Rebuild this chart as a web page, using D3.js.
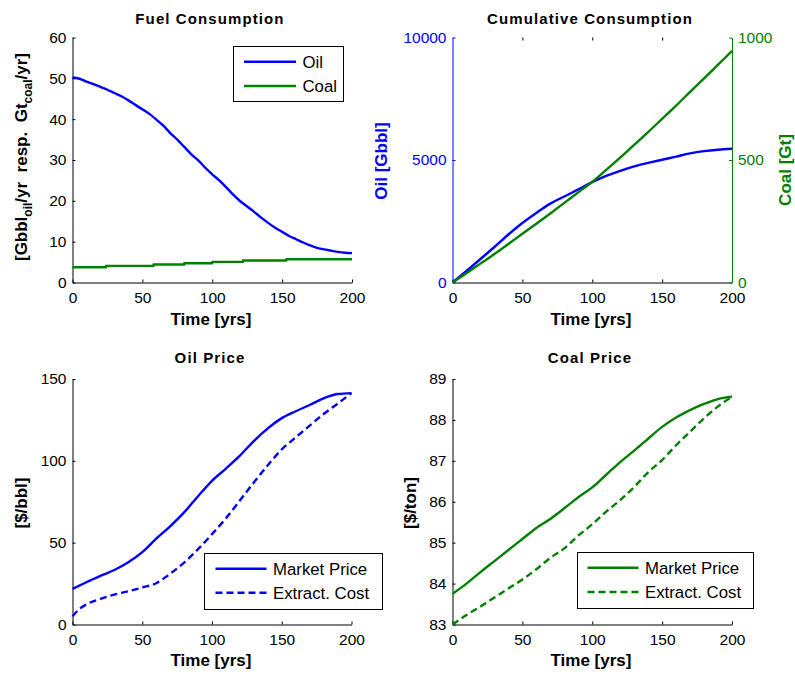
<!DOCTYPE html>
<html><head><meta charset="utf-8">
<script src="https://cdn.jsdelivr.net/npm/d3@7"></script>
<style>
body{margin:0;background:#fff}
svg{display:block}
text{font-family:"Liberation Sans",Arial,Helvetica,sans-serif}
</style>
</head><body>
<svg id="chart" width="795" height="675"></svg>
<script>
// ---------------- data ----------------
const years = [0,10,20,30,40,50,60,70,80,90,100,110,120,130,140,150,160,170,180,190,200];
const years5 = [0,5,10,15,20,25,30,35,40,45,50,55,60,65,70,75,80,85,90,95,100,105,110,115,120,125,130,135,140,145,150,155,160,165,170,175,180,185,190,195,200];
const oilConsumption = [50.2,49.9,49.2,48.6,47.9,47.2,46.4,45.6,44.6,43.5,42.4,41.3,39.9,38.4,36.6,35.0,33.2,31.4,29.9,28.1,26.5,25.0,23.3,21.5,19.9,18.6,17.3,15.9,14.6,13.4,12.4,11.4,10.6,9.8,9.1,8.5,8.1,7.8,7.5,7.3,7.2];
const coalStepYears = [0,24,58,80,100,122,153,200];
const coalConsumption = [3.75,4.07,4.40,4.73,5.05,5.38,5.70,5.70];
const oilCumulative = [0,470,960,1450,1960,2430,2840,3220,3510,3800,4100,4350,4560,4740,4880,5010,5140,5270,5360,5420,5460];
const coalCumulative = [0,38,77,116,157,199,240,282,325,368,411,460,510,562,614,668,722,778,833,889,945];
const oilMarketPrice = [21.8,25.8,29.7,33.3,38.0,44.2,52.4,60.0,68.5,78.4,87.8,95.3,103.2,112.1,119.8,126.1,130.3,134.1,138.2,140.8,141.4];
const oilCostYears = [0,5,10,20,30,40,50,60,70,80,90,100,110,120,130,140,150,160,170,180,190,200];
const oilExtractCost = [5.0,9.5,12.3,15.6,18.3,20.3,22.6,25.2,31.0,37.8,46.0,55.2,64.9,75.8,86.8,97.3,107.0,114.3,121.5,128.6,134.9,141.4];
const coalMarketPrice = [83.75,84.0,84.28,84.55,84.82,85.09,85.36,85.58,85.84,86.11,86.35,86.66,86.97,87.25,87.54,87.83,88.06,88.24,88.39,88.51,88.57];
const coalExtractCost = [83.0,83.23,83.44,83.66,83.88,84.1,84.35,84.63,84.86,85.17,85.45,85.76,86.04,86.36,86.72,87.02,87.38,87.71,88.04,88.33,88.57];

const timeTicks = [0,50,100,150,200];
const fuelTicks = [0,10,20,30,40,50,60];
const oilCumTicks = [0,5000,10000];
const coalCumTicks = [0,500,1000];
const oilPriceTicks = [0,50,100,150];
const coalPriceTicks = [83,84,85,86,87,88,89];

const BLUE = "#0000ff", GREEN = "#008000";

// ---------------- helpers ----------------
const svg = d3.select("#chart");

function styleAxis(g, color, size){
  g.selectAll("path.domain").attr("stroke", color).attr("stroke-width", 1);
  g.selectAll(".tick line").attr("stroke", color).attr("stroke-width", 1);
  g.selectAll(".tick text").attr("fill", color).attr("font-size", size)
    .attr("font-family", '"Liberation Sans",Arial,sans-serif');
  g.attr("font-size", null).attr("font-family", null);
}

function panel(x0, x1, yBottom, yTop, yDomain){
  const x = d3.scaleLinear().domain([0,200]).range([x0, x1]);
  const y = d3.scaleLinear().domain(yDomain).range([yBottom, yTop]);
  return {x, y};
}

function xAxis(p, yPos){
  const g = svg.append("g").attr("transform", `translate(0,${yPos})`)
    .call(d3.axisBottom(p.x).tickValues(timeTicks).tickSizeInner(-3).tickSizeOuter(0).tickPadding(9.5));
  styleAxis(g, "#000", "15.5px");
  return g;
}
function yAxisLeft(scale, xPos, ticks, color, fmt){
  const g = svg.append("g").attr("transform", `translate(${xPos},0)`)
    .call(d3.axisLeft(scale).tickValues(ticks).tickSizeInner(-3).tickSizeOuter(0).tickPadding(6).tickFormat(fmt || d3.format("d")));
  styleAxis(g, color, "15.5px");
  return g;
}
function yAxisRight(scale, xPos, ticks, color){
  const g = svg.append("g").attr("transform", `translate(${xPos},0)`)
    .call(d3.axisRight(scale).tickValues(ticks).tickSizeInner(-3).tickSizeOuter(0).tickPadding(6).tickFormat(d3.format("d")));
  styleAxis(g, color, "15.5px");
  return g;
}
function title(txt, cx, y){
  svg.append("text").attr("x", cx).attr("y", y).attr("text-anchor","middle")
    .attr("font-weight","bold").attr("font-size","15px").attr("letter-spacing","1.1px")
    .attr("fill","#000").text(txt);
}
function xLabel(cx, y){
  svg.append("text").attr("x", cx).attr("y", y).attr("text-anchor","middle")
    .attr("font-weight","bold").attr("font-size","17px").attr("fill","#000").text("Time [yrs]");
}
function yLabel(txt, x, cy, color){
  svg.append("text").attr("transform", `translate(${x},${cy}) rotate(-90)`)
    .attr("text-anchor","middle").attr("font-weight","bold").attr("font-size","17px")
    .attr("fill", color).text(txt);
}
function drawLine(p, xs, ys, color, dash, curve){
  const line = d3.line().x((d,i)=>p.x(xs[i])).y(d=>p.y(d)).curve(curve || d3.curveMonotoneX);
  svg.append("path").datum(ys).attr("d", line).attr("fill","none")
    .attr("stroke", color).attr("stroke-width", 2.4)
    .attr("stroke-dasharray", dash || null).attr("stroke-linejoin","round");
}
function legend(x, y, w, h, items, lineX0, lineX1, textX, rowYs){
  svg.append("rect").attr("x", x).attr("y", y).attr("width", w).attr("height", h)
    .attr("fill","#fff").attr("stroke","#000").attr("stroke-width",1);
  items.forEach((it, i) => {
    svg.append("line").attr("x1", lineX0).attr("x2", lineX1).attr("y1", rowYs[i]).attr("y2", rowYs[i])
      .attr("stroke", it.color).attr("stroke-width", 2.4).attr("stroke-dasharray", it.dash || null);
    svg.append("text").attr("x", textX).attr("y", rowYs[i]).attr("dy","0.36em")
      .attr("font-size","16.8px").attr("fill","#000").text(it.label);
  });
}

// ---------------- Panel 1: Fuel Consumption ----------------
const p1 = panel(72.5, 352, 282.5, 37.5, [0,60]);
xAxis(p1, 282.5);
yAxisLeft(p1.y, 72.5, fuelTicks, "#000");
drawLine(p1, years5, oilConsumption, BLUE);
drawLine(p1, coalStepYears, coalConsumption, GREEN, null, d3.curveStepAfter);
title("Fuel Consumption", 210, 24);
xLabel(211, 325);
{
  const t = svg.append("text").attr("transform","translate(27,157) rotate(-90)")
    .attr("text-anchor","middle").attr("font-weight","bold").attr("font-size","17px").attr("fill","#000")
    .attr("xml:space","preserve").style("white-space","pre");
  t.append("tspan").text("[Gbbl");
  t.append("tspan").attr("dy", 5).attr("font-size","12px").text("oil");
  t.append("tspan").attr("dy", -5).text("/yr  resp.  Gt");
  t.append("tspan").attr("dy", 5).attr("font-size","12px").text("coal");
  t.append("tspan").attr("dy", -5).text("/yr]");
}
legend(233.5, 46.5, 110, 55, [
  {label:"Oil", color:BLUE},
  {label:"Coal", color:GREEN}
], 244, 296, 302.5, [61.7, 86]);

// ---------------- Panel 2: Cumulative Consumption ----------------
const p2 = panel(452.5, 732, 282.5, 37.5, [0,10000]);
const y2c = d3.scaleLinear().domain([0,1000]).range([282.5, 37.5]);
xAxis(p2, 282.5);
{
  const g = svg.append("g").attr("transform","translate(0,37.5)")
    .call(d3.axisTop(p2.x).tickValues([50,100,150]).tickSizeInner(-3).tickSizeOuter(0).tickFormat(""));
  g.select("path.domain").remove();
  styleAxis(g, "#000", "15.5px");
}
yAxisLeft(p2.y, 452.5, oilCumTicks, BLUE);
yAxisRight(y2c, 732, coalCumTicks, GREEN);
drawLine(p2, years, oilCumulative, BLUE);
drawLine({x:p2.x, y:y2c}, years, coalCumulative, GREEN);
title("Cumulative Consumption", 590, 24);
xLabel(591, 325);
yLabel("Oil [Gbbl]", 387, 161, BLUE);
yLabel("Coal [Gt]", 791, 170, GREEN);

// ---------------- Panel 3: Oil Price ----------------
const p3 = panel(72.5, 351.5, 624.5, 379, [0,150]);
xAxis(p3, 624.5);
yAxisLeft(p3.y, 72.5, oilPriceTicks, "#000");
drawLine(p3, years, oilMarketPrice, BLUE);
drawLine(p3, oilCostYears, oilExtractCost, BLUE, "7,4");
title("Oil Price", 210, 363);
xLabel(211, 666);
yLabel("[$/bbl]", 27, 503, "#000");
legend(204.5, 553.5, 178, 56, [
  {label:"Market Price", color:BLUE},
  {label:"Extract. Cost", color:BLUE, dash:"7,4"}
], 215.5, 266.5, 273, [568.7, 592.7]);

// ---------------- Panel 4: Coal Price ----------------
const p4 = panel(452.5, 732, 624.5, 379, [83,89]);
xAxis(p4, 624.5);
yAxisLeft(p4.y, 452.5, coalPriceTicks, "#000");
drawLine(p4, years, coalMarketPrice, GREEN);
drawLine(p4, years, coalExtractCost, GREEN, "7,4");
title("Coal Price", 590, 363);
xLabel(591, 666);
yLabel("[$/ton]", 416, 503, "#000");
legend(577.5, 552.5, 176, 56, [
  {label:"Market Price", color:GREEN},
  {label:"Extract. Cost", color:GREEN, dash:"7,4"}
], 587.5, 638.5, 645, [567.7, 592]);
</script>
</body></html>
